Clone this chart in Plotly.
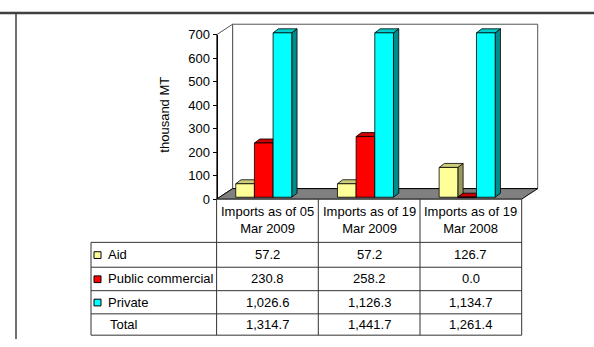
import plotly.graph_objects as go

# ---------------- data ----------------
categories = ["Imports as of 05<br>Mar 2009", "Imports as of 19<br>Mar 2009", "Imports as of 19<br>Mar 2008"]
series_names = ["Aid", "Public commercial", "Private"]
aid = [57.2, 57.2, 126.7]
public_commercial = [230.8, 258.2, 0.0]
private = [1026.6, 1126.3, 1134.7]
total = [1314.7, 1441.7, 1261.4]
y_ticks = [0, 100, 200, 300, 400, 500, 600, 700]
y_title = "thousand MT"

# ---------------- geometry / style ----------------
W, H = 594, 347
FX, SX = 216.6, 101.7            # px of x=-0.5, px per category
FY = 200.8                        # px of value 0
SY = (200.8 - 29.0) / 700.0       # px per unit
YMAX = 700
FONT = "Arial, Liberation Sans, sans-serif"

def dx(p):
    return p / SX

def dy(p):
    return p / SY

def PX(p):
    return p / W

def PY(p):
    return 1 - p / H

xr = [-0.5 - FX / SX, -0.5 + (W - FX) / SX]
yr = [-(H - FY) / SY, FY / SY]

front_cols = ["#FFFF99", "#FF0000", "#00FFFF"]
top_cols = ["#CCCC7A", "#CC0000", "#00CCCC"]
side_cols = ["#99995C", "#990000", "#008C8C"]

fig = go.Figure()

def poly(xs, ys, fill, line="black", lw=0.8):
    fig.add_trace(go.Scatter(x=xs, y=ys, mode="lines", fill="toself",
                             fillcolor=fill, line=dict(color=line, width=lw),
                             hoverinfo="skip", showlegend=False))

ncat = len(categories)
FDX, FDY = dx(16), dy(11)
left = -0.5
right = ncat - 0.5

# back wall
poly([left + FDX, right + FDX, right + FDX, left + FDX, left + FDX],
     [FDY, FDY, YMAX + FDY, YMAX + FDY, FDY], "white", line="#555555", lw=1)
# left wall
poly([left, left + FDX, left + FDX, left, left],
     [0, FDY, YMAX + FDY, YMAX, 0], "white", line="#555555", lw=1)
# floor
poly([left, left + FDX, right + FDX, right, left],
     [0, FDY, FDY, 0, 0], "#808080", line="black", lw=1)

series_vals = [aid, public_commercial, private]
BW = dx(18.67)
BDX, BDY = dx(5.3), dy(4.2)
base = dy(2)
for i in range(ncat):
    for j, vals in enumerate(series_vals):
        v = min(vals[i], YMAX)
        L = i + dx(-31.7) + j * BW
        R = L + BW
        t = base + v
        poly([R, R + BDX, R + BDX, R, R], [base, base + BDY, t + BDY, t, base], side_cols[j])
        poly([L, L + BDX, R + BDX, R, L], [t, t + BDY, t + BDY, t, t], top_cols[j])
        poly([L, R, R, L, L], [base, base, t, t, base], front_cols[j])

# dummy trace to show the value axis
fig.add_trace(go.Scatter(x=[None], y=[None], yaxis="y2", showlegend=False, hoverinfo="skip"))

shapes = []
def line(x0, y0, x1, y1, color="#333333", width=1):
    shapes.append(dict(type="line", xref="paper", yref="paper",
                       x0=PX(x0), y0=PY(y0), x1=PX(x1), y1=PY(y1),
                       line=dict(color=color, width=width)))

# outer frame
line(0, 6.3, W, 6.3, color="#404040", width=2.5)
line(16, 7, 16, H, color="#404040", width=1.5)

# data table
col_x = [FX + k * SX for k in range(ncat + 1)]
row_y = [246, 272, 296.5, 320.7, 343]
leg_x = 91
for cx in col_x:
    line(cx, FY, cx, row_y[-1])
line(leg_x, row_y[0], leg_x, row_y[-1])
for ry in row_y:
    line(leg_x, ry, col_x[-1], ry)

annotations = []
def text(x, y, s, anchor="center", angle=0):
    annotations.append(dict(xref="paper", yref="paper", x=PX(x), y=PY(y), text=s,
                            showarrow=False, xanchor=anchor, yanchor="middle",
                            textangle=angle,
                            font=dict(family=FONT, size=13, color="black")))

# header
for i, c in enumerate(categories):
    text((col_x[i] + col_x[i + 1]) / 2, 222.8, c)

row_labels = series_names + ["Total"]
row_vals = [aid, public_commercial, private, total]
for r, (lab, vals) in enumerate(zip(row_labels, row_vals)):
    cy = (row_y[r] + row_y[r + 1]) / 2
    if r < 3:
        shapes.append(dict(type="rect", xref="paper", yref="paper",
                           x0=PX(94), x1=PX(101), y0=PY(cy - 3.2), y1=PY(cy + 3.8),
                           fillcolor=front_cols[r], line=dict(color="black", width=1)))
        text(105.5, cy, lab, anchor="left")
    else:
        text(107.5, cy, lab, anchor="left")
    for i, v in enumerate(vals):
        text((col_x[i] + col_x[i + 1]) / 2, cy, "{:,.1f}".format(v))

# axis title
text(165, 112.5, y_title, angle=-90)

fig.update_layout(
    width=W, height=H, autosize=False,
    margin=dict(l=0, r=0, t=0, b=0, pad=0),
    paper_bgcolor="white", plot_bgcolor="rgba(0,0,0,0)",
    showlegend=False,
    xaxis=dict(range=xr, domain=[0, 1], visible=False, fixedrange=True),
    yaxis=dict(range=yr, domain=[0, 1], visible=False, fixedrange=True),
    yaxis2=dict(range=[0, YMAX], domain=[PY(FY), PY(29.0)], anchor="free",
                position=PX(FX), side="left", tickvals=y_ticks,
                ticks="outside", ticklen=4, tickwidth=1, tickcolor="black",
                showline=True, linecolor="black", linewidth=1,
                showgrid=False, zeroline=False, fixedrange=True,
                tickfont=dict(family=FONT, size=13, color="black")),
    shapes=shapes,
    annotations=annotations,
)

fig.write_html("out.html", include_plotlyjs=True, config={"displayModeBar": False})
